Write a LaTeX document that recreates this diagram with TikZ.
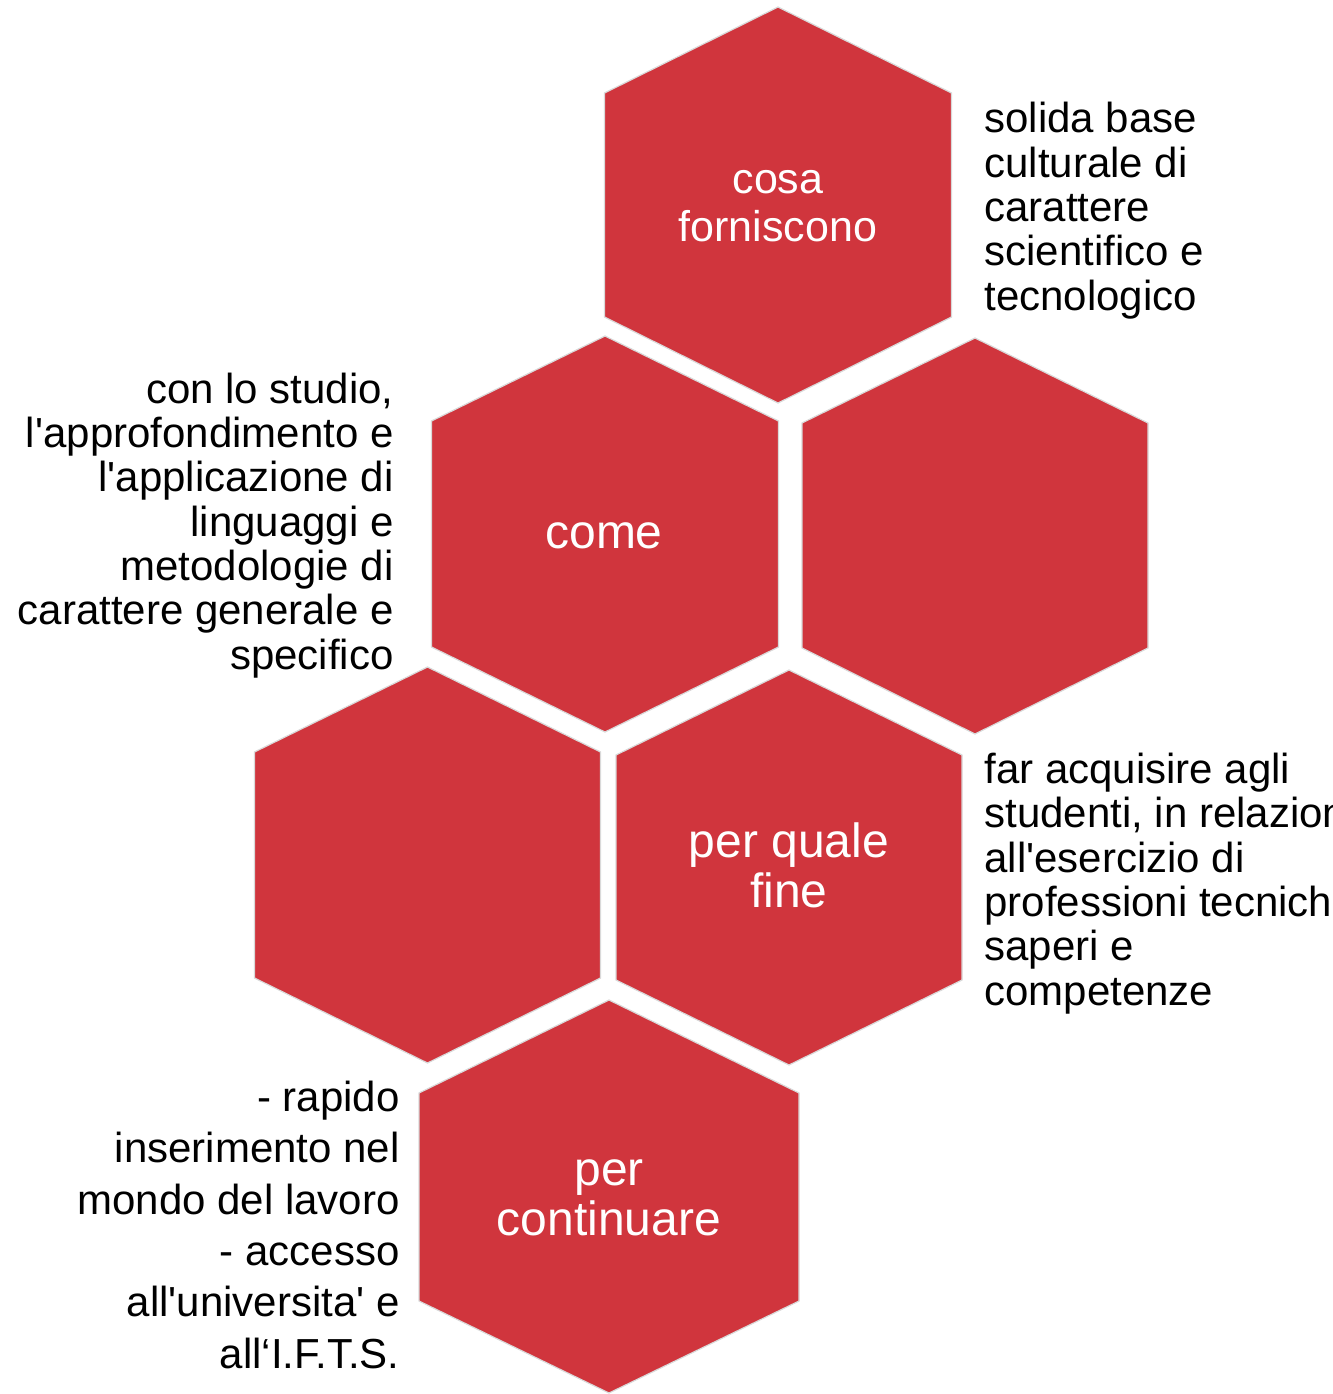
\documentclass[tikz,border=0pt]{standalone}
\usepackage{fontspec}
\setmainfont{Liberation Sans}[Ligatures=TeXOff]
\definecolor{hexred}{RGB}{208,53,61}
\newcommand\myhex[6]{% cx, half width, top, upper shoulder, lower shoulder, bottom
  \filldraw[hexcell] (#1,#3) -- (#1+#2,#4) -- (#1+#2,#5) -- (#1,#6) -- (#1-#2,#5) -- (#1-#2,#4) -- cycle;}
\begin{document}
\begin{tikzpicture}[x=0.5pt,y=-0.5pt,
  hexcell/.style={fill=hexred, draw=black!15, line width=0.6pt, line join=miter},
  hexlabel/.style={text=white, align=center, inner sep=0pt, font=\fontsize{24pt}{25pt}\selectfont},
  sidetext/.style={text=black, inner sep=0pt, font=\fontsize{21pt}{22.15pt}\selectfont}]
\useasboundingbox (0,0) rectangle (1333,1394);
\clip (0,0) rectangle (1333,1394);

\myhex{778}{173.5}{7}{93}{317}{403}
\myhex{605}{173.5}{336}{421}{647}{732}
\myhex{975}{173}{338}{423}{648}{734}
\myhex{427.5}{173}{667}{752}{978}{1063}
\myhex{789}{173}{670}{755}{980}{1065}
\myhex{609}{190}{1000}{1093}{1301}{1393}

\node[hexlabel, font=\fontsize{21.5pt}{24pt}\selectfont, anchor=base] (cosa) at (778,241) {cosa\\forniscono};
\node[hexlabel, anchor=base] (come) at (604,548) {come};
\node[hexlabel, anchor=base] (fine) at (789,907) {per quale\\fine};
\node[hexlabel, anchor=base] (cont) at (609,1235) {per\\continuare};

\node[sidetext, align=left, anchor=base west] (base) at (984,310)
  {solida base\\culturale di\\carattere\\scientifico e\\tecnologico};
\node[sidetext, align=right, anchor=base east] (studio) at (394,669)
  {con lo studio,\\l'approfondimento e\\l'applicazione di\\linguaggi e\\metodologie di\\carattere generale e\\specifico};
\node[sidetext, align=left, anchor=base west] (acquisire) at (984,1005)
  {far acquisire agli\\studenti, in relazione\\all'esercizio di\\professioni tecniche\\saperi e\\competenze};
\node[sidetext, font=\fontsize{21pt}{25.65pt}\selectfont, align=right, anchor=base east] (sbocchi) at (400,1368)
  {- rapido\\inserimento nel\\mondo del lavoro\\- accesso\\all'universita' e\\all‘I.F.T.S.};
\end{tikzpicture}
\end{document}
